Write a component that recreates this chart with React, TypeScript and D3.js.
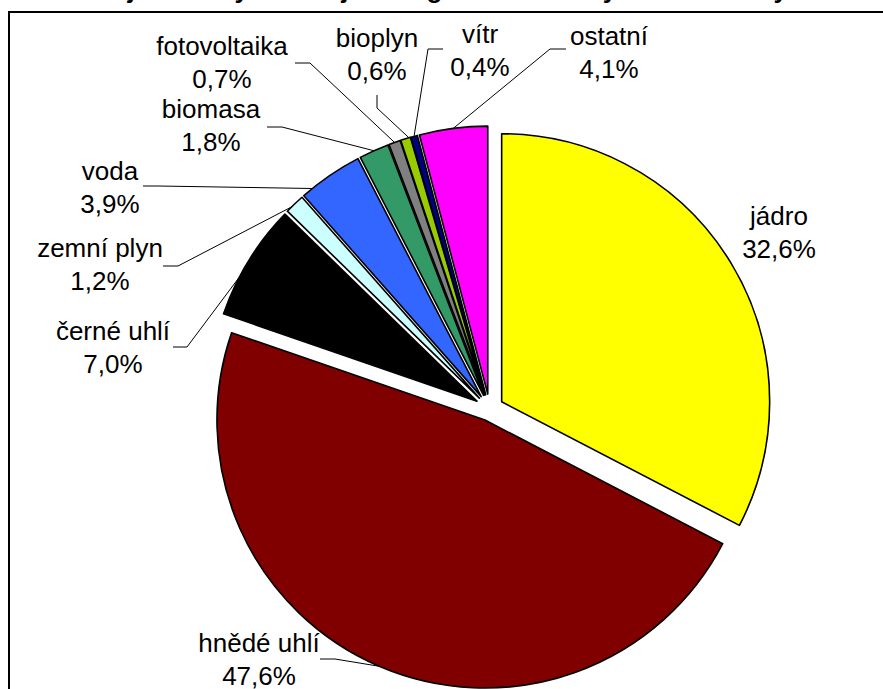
import React from "react";
import * as d3 from "d3";

const categories = ["jádro", "hnědé uhlí", "černé uhlí", "zemní plyn", "voda", "biomasa", "fotovoltaika", "bioplyn", "vítr", "ostatní"];
const values = [32.6, 47.6, 7.0, 1.2, 3.9, 1.8, 0.7, 0.6, 0.4, 4.1];
const colors = ["#FFFF00", "#800000", "#000000", "#CCFFFF", "#3366FF", "#339966", "#808080", "#99CC00", "#000080", "#FF00FF"];
const explode = [14, 12, 15, 15, 15, 15, 15, 15, 15, 15];

// label layout: text centre x, first baseline y, leader elbow (start, bend), attach fraction within slice
const labelX = [779, 259, 113, 100, 110, 211, 222, 377, 480, 609];
const labelY = [225, 652, 340, 257, 180, 118, 55, 47, 43, 45];
const leaderStart: ([number, number] | null)[] = [null, [320, 659], [173, 347], [163, 266], [143, 186], [267, 127], [295, 63], [377, 95], [443, 49], [566, 49]];
const leaderBend: ([number, number] | null)[] = [null, [335, 659], [187, 347], [178, 266], [158, 186], [282, 127], [310, 63], [377, 108], [428, 49], [550, 49]];
const attach = [0.5, 0.5, 0.34, 0.3, 0.17, 0.5, 0.5, 0.85, 0.5, 0.5];

const title = "Podíl jednotlivých zdrojů energie na hrubé výrobě elektřiny v ČR v roce 2010";

const W = 883;
const H = 689;
const cx = 489.7;
const cy = 409;
const R = 268;
const FONT = "'Liberation Sans', Arial, sans-serif";

const fmt = (v: number) => v.toFixed(1).replace(".", ",") + "%";

export default function App() {
  const pie = d3.pie<number>().sort(null).value((d) => d);
  const arcs = pie(values);
  const arcGen = d3.arc<d3.PieArcDatum<number>>().innerRadius(0).outerRadius(R);

  const offset = (i: number) => {
    const a = arcs[i];
    const m = (a.startAngle + a.endAngle) / 2;
    return [explode[i] * Math.sin(m), -explode[i] * Math.cos(m)];
  };

  return (
    <svg width={W} height={H} style={{ position: "absolute", left: 0, top: 0, background: "#fff" }}>
      <rect x={0} y={0} width={W} height={H} fill="#fff" />
      <text x={530} y={-2.5} textAnchor="middle" fontFamily={FONT} fontWeight="bold" fontSize={26} fill="#000">
        {title}
      </text>
      <rect x={9} y={12} width={W + 20} height={H + 20} fill="#fff" stroke="#000" strokeWidth={2} />
      <g>
        {arcs.map((a, i) => {
          const [ox, oy] = offset(i);
          return (
            <path
              key={categories[i]}
              d={arcGen(a) || ""}
              transform={`translate(${cx + ox},${cy + oy})`}
              fill={colors[i]}
              stroke="#000"
              strokeWidth={1.6}
              strokeLinejoin="round"
            />
          );
        })}
      </g>
      <g>
        {arcs.map((a, i) => {
          const s = leaderStart[i];
          const b = leaderBend[i];
          if (!s || !b) return null;
          const [ox, oy] = offset(i);
          const ang = a.startAngle + (a.endAngle - a.startAngle) * attach[i];
          const ex = cx + ox + R * Math.sin(ang);
          const ey = cy + oy - R * Math.cos(ang);
          return (
            <polyline
              key={"l" + i}
              points={`${s[0]},${s[1]} ${b[0]},${b[1]} ${ex},${ey}`}
              fill="none"
              stroke="#000"
              strokeWidth={1}
            />
          );
        })}
      </g>
      <g fontFamily={FONT} fontSize={26} fill="#000" textAnchor="middle">
        {categories.map((c, i) => (
          <text key={"t" + i} x={labelX[i]} y={labelY[i]}>
            <tspan x={labelX[i]}>{c}</tspan>
            <tspan x={labelX[i]} dy={33}>{fmt(values[i])}</tspan>
          </text>
        ))}
      </g>
    </svg>
  );
}
